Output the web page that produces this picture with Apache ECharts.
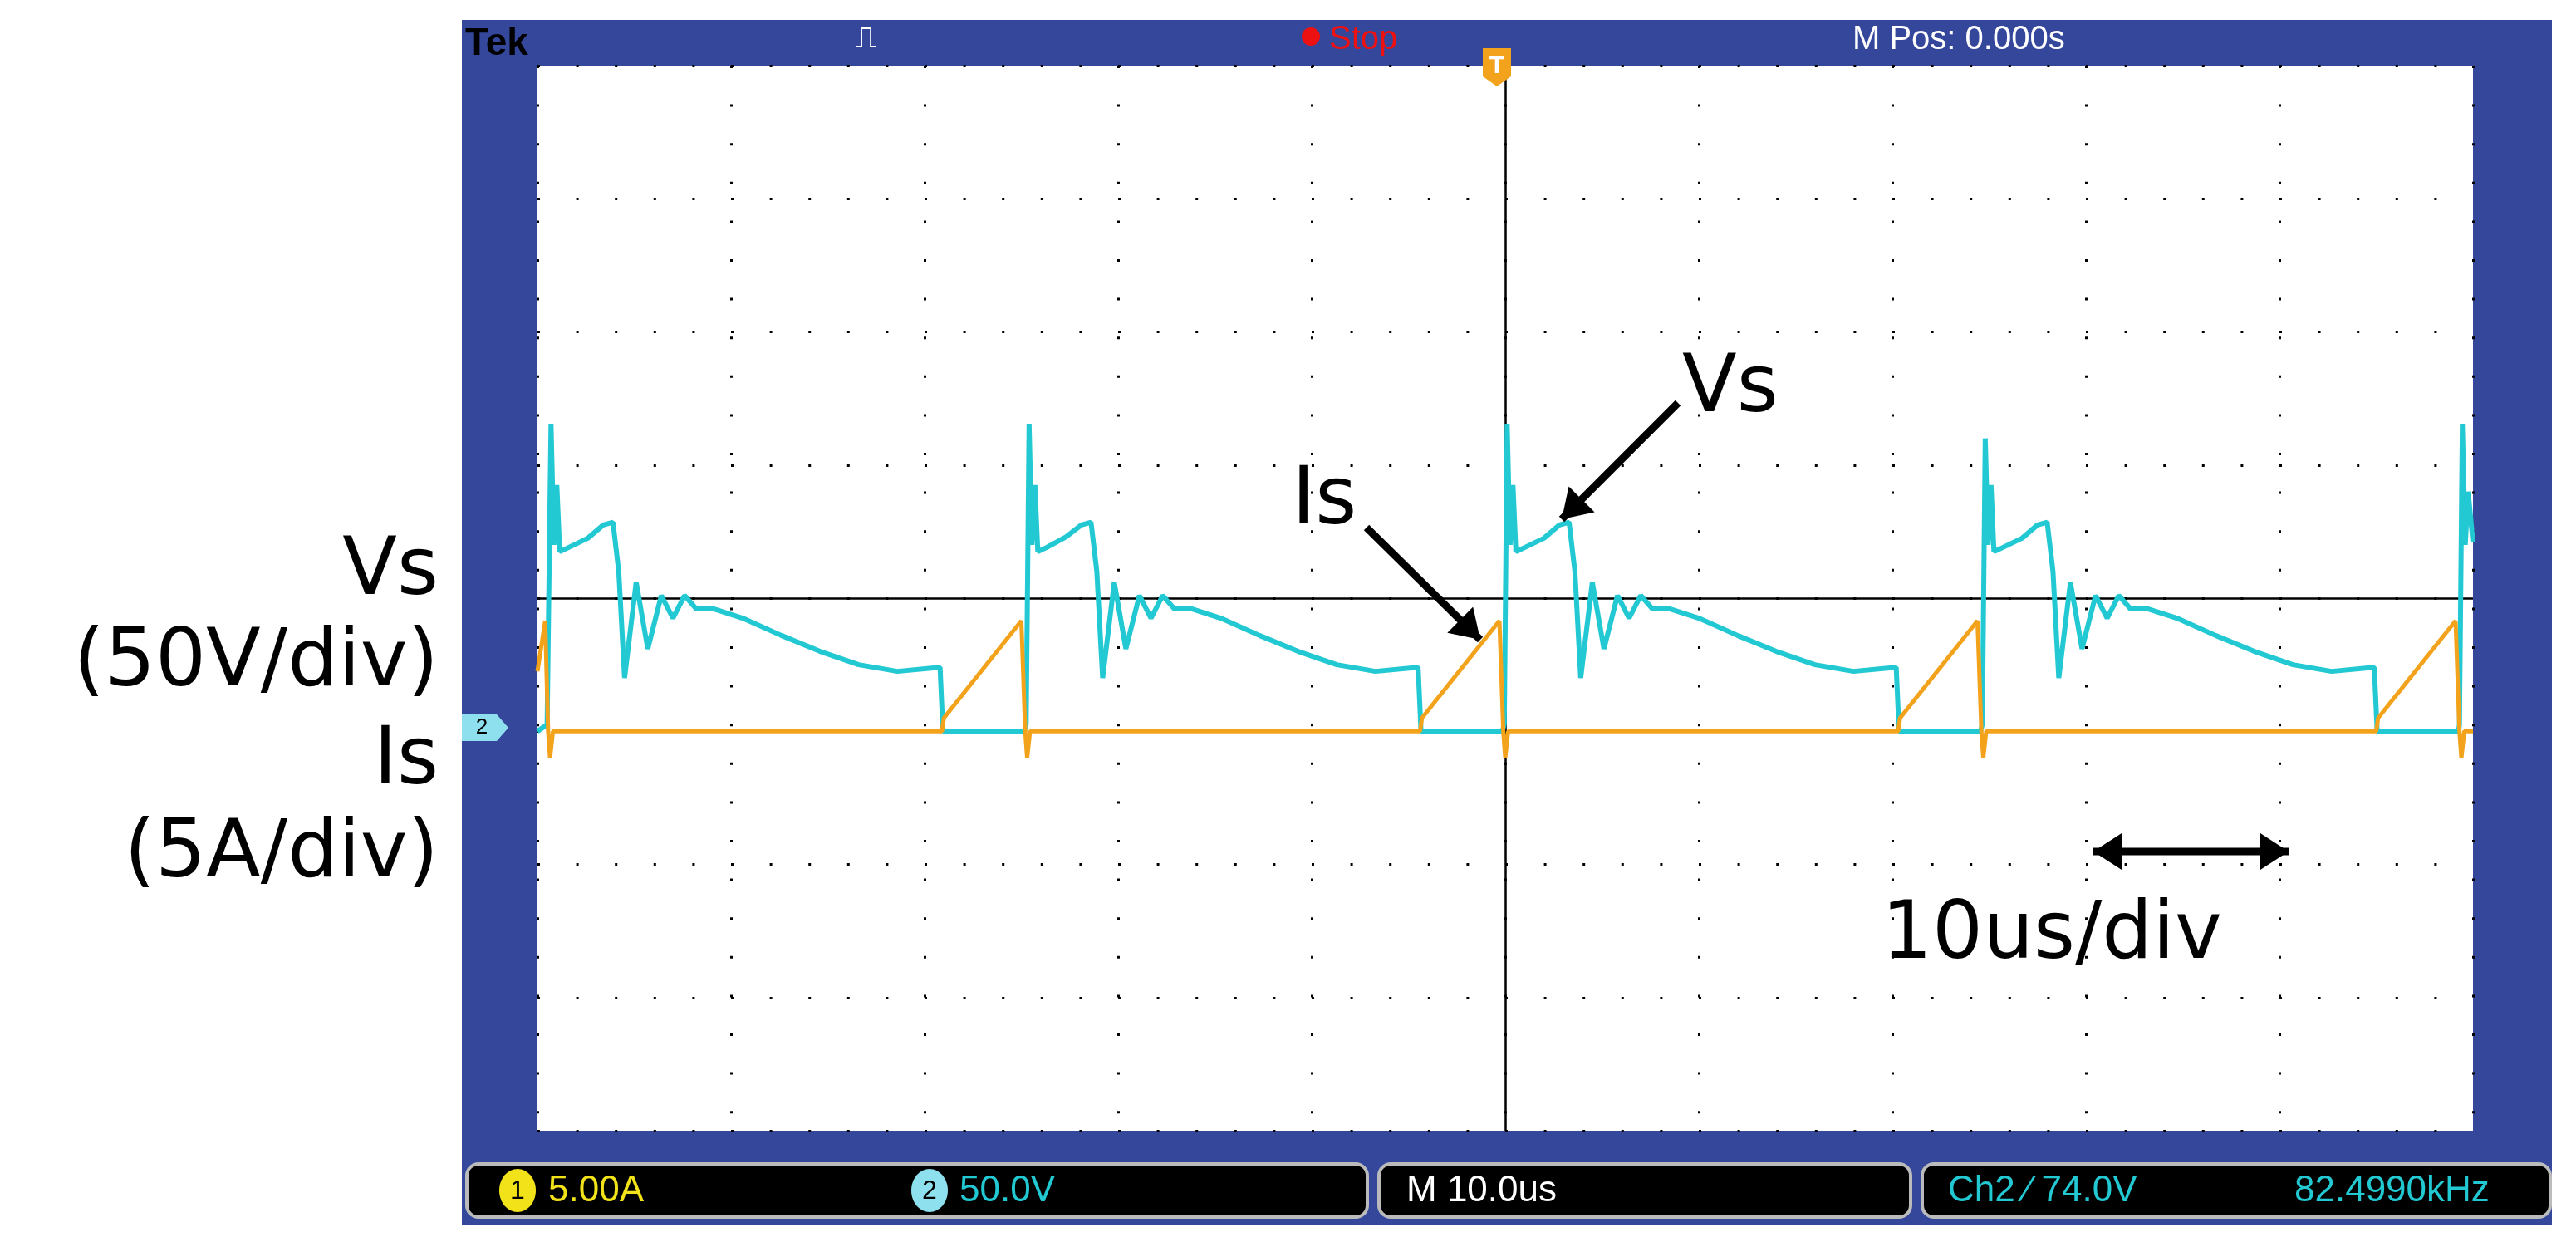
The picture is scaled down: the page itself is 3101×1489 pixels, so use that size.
<!DOCTYPE html>
<html><head><meta charset="utf-8">
<script src="https://cdn.jsdelivr.net/npm/echarts@6/dist/echarts.min.js"></script>
<style>html,body{margin:0;padding:0;background:#fff}#c{width:3101px;height:1489px}</style>
</head><body><div id="c"></div>
<script>
// time in us, values in divisions (Vs 50V/div, Is 5A/div), centre line = 0
const xTicks = [-50,-40,-30,-20,-10,0,10,20,30,40,50];
const vsData = [
 [-50,-1],[-49.5,-0.95],[-49.3,1.31],[-49.15,0.4],[-49.0,0.85],[-48.85,0.35],[-48.4,0.38],[-47.4,0.45],[-46.6,0.55],[-46.1,0.57],[-45.8,0.2],[-45.5,-0.6],[-44.9,0.12],[-44.3,-0.38],[-43.6,0.02],[-43.0,-0.15],[-42.4,0.02],[-41.8,-0.08],[-40.9,-0.08],[-39.4,-0.15],[-37.4,-0.28],[-35.4,-0.4],[-33.4,-0.5],[-31.4,-0.55],[-29.2,-0.52],[-29.05,-1.0],[-24.85,-1.0],
 [-24.75,-0.95],[-24.6,1.31],[-24.45,0.4],[-24.3,0.85],[-24.15,0.35],[-23.7,0.38],[-22.7,0.46],[-21.9,0.55],[-21.4,0.57],[-21.1,0.2],[-20.8,-0.6],[-20.2,0.12],[-19.6,-0.38],[-18.9,0.02],[-18.3,-0.15],[-17.7,0.02],[-17.1,-0.08],[-16.2,-0.08],[-14.7,-0.15],[-12.7,-0.28],[-10.7,-0.4],[-8.7,-0.5],[-6.7,-0.55],[-4.5,-0.52],[-4.35,-1.0],[-0.15,-1.0],
 [-0.05,-0.95],[0.1,1.31],[0.25,0.4],[0.4,0.85],[0.55,0.35],[1.0,0.38],[2.0,0.45],[2.8,0.55],[3.3,0.57],[3.6,0.2],[3.9,-0.6],[4.5,0.12],[5.1,-0.38],[5.8,0.02],[6.4,-0.15],[7.0,0.02],[7.6,-0.08],[8.5,-0.08],[10,-0.15],[12,-0.28],[14,-0.4],[16,-0.5],[18,-0.55],[20.2,-0.52],[20.35,-1.0],[24.55,-1.0],
 [24.65,-0.95],[24.8,1.2],[24.95,0.4],[25.1,0.85],[25.25,0.35],[25.7,0.38],[26.7,0.45],[27.5,0.55],[28.0,0.57],[28.3,0.2],[28.6,-0.6],[29.2,0.12],[29.8,-0.38],[30.5,0.02],[31.1,-0.15],[31.7,0.02],[32.3,-0.08],[33.2,-0.08],[34.7,-0.15],[36.7,-0.28],[38.7,-0.4],[40.7,-0.5],[42.7,-0.55],[44.9,-0.52],[45.05,-1.0],[49.25,-1.0],
 [49.3,-0.95],[49.45,1.31],[49.6,0.4],[49.75,0.8],[50,0.42]
];
const isData = [
 [-50,-0.55],[-49.6,-0.17],[-49.45,-1.0],[-49.35,-1.2],[-49.2,-1.0],[-29.1,-1.0],[-29.0,-0.9],[-25.0,-0.17],[-24.8,-1.0],[-24.7,-1.2],[-24.55,-1.0],
 [-4.4,-1.0],[-4.3,-0.9],[-0.3,-0.17],[-0.1,-1.0],[0,-1.2],[0.15,-1.0],[20.3,-1.0],[20.4,-0.9],[24.4,-0.17],[24.6,-1.0],[24.7,-1.2],[24.85,-1.0],
 [45.0,-1.0],[45.1,-0.9],[49.1,-0.17],[49.3,-1.0],[49.4,-1.2],[49.55,-1.0],[50,-1.0]
];
const chart = echarts.init(document.getElementById('c'));
const L=647,R=2977,T=79,B=1361;
const big = {fontFamily:'DejaVu Sans',fontSize:96,fill:'#000'};
function arrow(x1,y1,x2,y2,both){
  const els=[{type:'line',shape:{x1,y1,x2,y2},style:{stroke:'#000',lineWidth:9},z:50}];
  const head=(xa,ya,xb,yb)=>{const a=Math.atan2(yb-ya,xb-xa),h=34,w=22;
    return {type:'polygon',shape:{points:[[xb,yb],[xb-h*Math.cos(a)+w*Math.sin(a),yb-h*Math.sin(a)-w*Math.cos(a)],[xb-h*Math.cos(a)-w*Math.sin(a),yb-h*Math.sin(a)+w*Math.cos(a)]]},style:{fill:'#000'},z:51};};
  els.push(head(x1,y1,x2,y2)); if(both) els.push(head(x2,y2,x1,y1)); return els;
}
const small={fontFamily:'Liberation Sans',fontSize:44};
chart.setOption({
  animation:false, backgroundColor:'#fff',
  grid:{left:L,right:3101-R,top:T,bottom:1489-B,show:true,backgroundColor:'#fff',borderWidth:0},
  xAxis:{type:'value',min:-50,max:50,interval:10,axisLine:{show:false},axisTick:{show:false},axisLabel:{show:false},
    splitLine:{show:true,lineStyle:{color:'#000',width:3,type:[3,43.6],dashOffset:0}}},
  yAxis:{type:'value',min:-4,max:4,interval:1,axisLine:{show:false},axisTick:{show:false},axisLabel:{show:false},
    splitLine:{show:true,lineStyle:{color:'#000',width:3,type:[3,43.6]}}},
  series:[
    {type:'line',data:vsData,showSymbol:false,lineStyle:{color:'#22c8d2',width:6},z:5,
     markLine:{silent:true,symbol:'none',label:{show:false},lineStyle:{color:'#000',width:2.5,type:'solid'},data:[{xAxis:0},{yAxis:0}]}},
    {type:'line',data:isData,showSymbol:false,lineStyle:{color:'#f3a21c',width:5},z:6}
  ],
  graphic:[
    {type:'rect',shape:{x:556,y:24,width:2516,height:1450},style:{fill:'#34479b'},z:-10},
    {type:'text',x:560,y:30,style:{text:'Tek',fontFamily:'Liberation Sans',fontWeight:'bold',fontSize:46,fill:'#000'}},
    {type:'text',x:1030,y:30,style:{text:'⎍',fontFamily:'DejaVu Sans',fontSize:36,fill:'#fff'}},
    {type:'circle',shape:{cx:1578,cy:44,r:11},style:{fill:'#e11'}},
    {type:'text',x:1600,y:28,style:{text:'Stop',fontFamily:'Liberation Sans',fontSize:40,fill:'#e11'}},
    {type:'text',x:2230,y:28,style:{text:'M Pos: 0.000s',fontFamily:'Liberation Sans',fontSize:40,fill:'#fff'}},
    {type:'polygon',shape:{points:[[1785,58],[1819,58],[1819,92],[1802,104],[1785,92]]},style:{fill:'#f3a21c'},z:20},
    {type:'text',x:1802,y:80,style:{text:'T',align:'center',verticalAlign:'middle',fontFamily:'Liberation Sans',fontWeight:'bold',fontSize:30,fill:'#fff'},z:21},
    {type:'polygon',shape:{points:[[556,860],[598,860],[612,876],[598,892],[556,892]]},style:{fill:'#8fe0ee'},z:20},
    {type:'text',x:580,y:876,style:{text:'2',align:'center',verticalAlign:'middle',fontFamily:'Liberation Sans',fontSize:26,fill:'#000'},z:21},
    {type:'rect',shape:{x:562,y:1401,width:1084,height:64,r:14},style:{fill:'#000',stroke:'#bbb',lineWidth:4}},
    {type:'rect',shape:{x:1660,y:1401,width:640,height:64,r:14},style:{fill:'#000',stroke:'#bbb',lineWidth:4}},
    {type:'rect',shape:{x:2314,y:1401,width:756,height:64,r:14},style:{fill:'#000',stroke:'#bbb',lineWidth:4}},
    {type:'ellipse',shape:{cx:623,cy:1433,rx:22,ry:26},style:{fill:'#f2e21a'}},
    {type:'text',x:623,y:1434,style:{text:'1',align:'center',verticalAlign:'middle',...small,fontSize:32,fill:'#000'}},
    {type:'text',x:660,y:1434,style:{text:'5.00A',verticalAlign:'middle',...small,fill:'#f2e21a'}},
    {type:'ellipse',shape:{cx:1119,cy:1433,rx:22,ry:26},style:{fill:'#8fe0ee'}},
    {type:'text',x:1119,y:1434,style:{text:'2',align:'center',verticalAlign:'middle',...small,fontSize:32,fill:'#000'}},
    {type:'text',x:1155,y:1434,style:{text:'50.0V',verticalAlign:'middle',...small,fill:'#22c8d2'}},
    {type:'text',x:1693,y:1434,style:{text:'M 10.0us',verticalAlign:'middle',...small,fill:'#fff'}},
    {type:'text',x:2345,y:1434,style:{text:'Ch2 \u2044 74.0V',verticalAlign:'middle',...small,fill:'#22c8d2'}},
    {type:'text',x:2762,y:1434,style:{text:'82.4990kHz',verticalAlign:'middle',...small,fill:'#22c8d2'}},
    {type:'text',x:528,y:690,style:{text:'Vs',align:'right',verticalAlign:'middle',...big}},
    {type:'text',x:528,y:800,style:{text:'(50V/div)',align:'right',verticalAlign:'middle',...big}},
    {type:'text',x:528,y:918,style:{text:'Is',align:'right',verticalAlign:'middle',...big}},
    {type:'text',x:528,y:1030,style:{text:'(5A/div)',align:'right',verticalAlign:'middle',...big}},
    {type:'text',x:2025,y:470,style:{text:'Vs',verticalAlign:'middle',...big},z:40},
    {type:'text',x:1555,y:605,style:{text:'Is',verticalAlign:'middle',...big},z:40},
    {type:'text',x:2265,y:1128,style:{text:'10us/div',verticalAlign:'middle',...big},z:40},
    ...arrow(2020,485,1880,625,false),
    ...arrow(1645,635,1782,770,false),
    ...arrow(2520,1025,2755,1025,true)
  ]
});
</script></body></html>
